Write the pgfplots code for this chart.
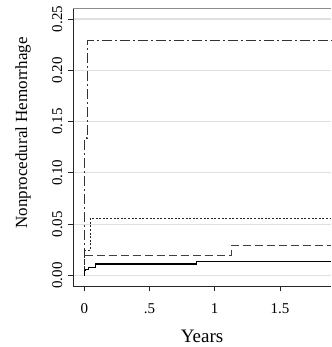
\documentclass[border=0pt]{standalone}
\usepackage{fontspec}
\setmainfont{Liberation Serif}
\usepackage{pgfplots}
\pgfplotsset{compat=1.18}
\begin{document}
\begin{tikzpicture}[x=1pt,y=1pt]
\begin{axis}[at={(56,59)}, anchor=south west, scale only axis,
  width=258pt, height=278pt,
  xmin=-0.0867, xmax=1.892, ymin=-0.0107, ymax=0.2602,
  axis x line*=bottom, axis y line*=left,
  axis line style={black!85, line width=0.8pt},
  tick align=outside, major tick length=5pt,
  tick style={black!85, line width=0.8pt},
  xtick={0,0.5,1,1.5}, xticklabels={0,.5,1,1.5},
  ytick={0,0.05,0.10,0.15,0.20,0.25},
  yticklabels={0.00,0.05,0.10,0.15,0.20,0.25},
  ymajorgrids, major grid style={black!12, line width=1.2pt},
  ticklabel style={font=\fontsize{15}{15}\selectfont},
  yticklabel style={rotate=90, anchor=south, inner sep=0pt, yshift=5.5pt},
  xticklabel style={anchor=north, inner sep=0pt, yshift=-12pt},
  xlabel={Years}, ylabel={Nonprocedural Hemorrhage},
  xlabel style={font=\fontsize{19}{19}\selectfont, at={([yshift=-50pt]rel axis cs:0.5,0)}, anchor=center},
  ylabel style={font=\fontsize{17}{17}\selectfont, at={([xshift=-50pt]rel axis cs:0,0.552)}, anchor=center},
  extra description/.code={\draw[black!45, line width=1pt] (rel axis cs:0,1) -- (rel axis cs:1,1);},
  clip=false,
]
% dash-dot
\addplot[const plot, black!80, line width=1.1pt, dash pattern=on 10pt off 3pt on 2pt off 3pt]
 coordinates {(0,0) (0.002,0.134) (0.026,0.2287) (1.892,0.2287)};
% dotted
\addplot[const plot, black!85, line width=1.1pt, dash pattern=on 2pt off 1.6pt]
 coordinates {(0,0) (0.001,0.0247) (0.045,0.0556) (1.892,0.0556)};
% dashed
\addplot[const plot, black!75, line width=1.1pt, dash pattern=on 8pt off 4pt]
 coordinates {(0.004,0.0198) (1.13,0.0295) (1.892,0.0295)};
% solid
\addplot[const plot, black, line width=1.1pt]
 coordinates {(0,0) (0.003,0.0045) (0.012,0.006) (0.03,0.0075) (0.085,0.0112) (0.862,0.0138) (1.892,0.0138)};
\end{axis}
\path (0,0) rectangle (331,347);
\end{tikzpicture}
\end{document}
